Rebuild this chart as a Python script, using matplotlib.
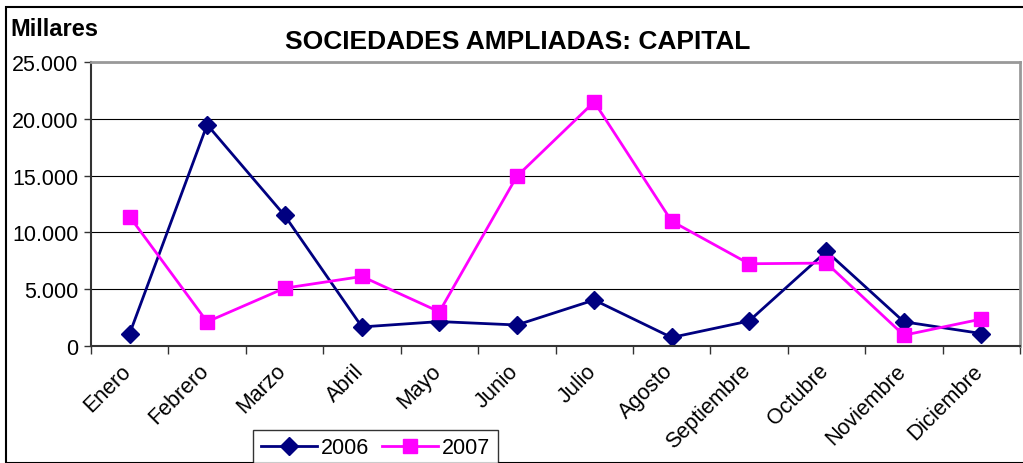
import matplotlib
matplotlib.use("Agg")
import matplotlib.pyplot as plt
import matplotlib.transforms as mtransforms
from matplotlib.ticker import FuncFormatter, FixedLocator
from matplotlib.patches import Rectangle

plt.rcParams['font.family'] = ['Liberation Sans', 'DejaVu Sans']

meses = ['Enero', 'Febrero', 'Marzo', 'Abril', 'Mayo', 'Junio', 'Julio',
         'Agosto', 'Septiembre', 'Octubre', 'Noviembre', 'Diciembre']
v2006 = [1100, 19480, 11500, 1680, 2150, 1850, 4050, 750, 2200, 8330, 2130, 1100]
v2007 = [11380, 2130, 5090, 6120, 3010, 14930, 21490, 10990, 7240, 7300, 950, 2370]

fig = plt.figure(figsize=(10.23, 4.64), dpi=100)
ax = fig.add_axes([91/1023, (464-347)/464, (1020-91)/1023, (347-63)/464])

x = list(range(len(meses)))
ax.plot(x, v2006, color='#000080', lw=2, marker='D', ms=9, label='2006')
ax.plot(x, v2007, color='#FF00FF', lw=2, marker='s', ms=10, label='2007')

ax.set_xlim(-0.5, len(meses) - 0.5)
ax.set_ylim(0, 25000)
ax.set_yticks(range(0, 25001, 5000))
ax.yaxis.set_major_formatter(FuncFormatter(lambda v, p: f"{int(v):,}".replace(',', '.')))
ax.grid(axis='y', color='black', lw=0.8)
ax.set_axisbelow(True)

ax.set_xticks(x)
ax.set_xticklabels(meses, rotation=45, ha='right', rotation_mode='anchor', fontsize=15.5)
ax.tick_params(axis='x', length=0, pad=10)
shift = mtransforms.ScaledTranslation(-9/100, 0, fig.dpi_scale_trans)
for lab in ax.get_xticklabels():
    lab.set_transform(lab.get_transform() + shift)
ax.xaxis.set_minor_locator(FixedLocator([i - 0.5 for i in range(len(meses) + 1)]))
ax.tick_params(axis='x', which='minor', length=6, width=1, color='#333333')
ax.tick_params(axis='y', labelsize=15.5, length=5, width=1, color='#333333', pad=4)

for s in ['left', 'bottom']:
    ax.spines[s].set_color('#333333')
    ax.spines[s].set_linewidth(1.5)
for s in ['top', 'right']:
    ax.spines[s].set_color('#999999')
    ax.spines[s].set_linewidth(2)

fig.text(518/1023, 1 - 42/464, 'SOCIEDADES AMPLIADAS: CAPITAL', fontsize=19,
         fontweight='bold', ha='center', va='center')
fig.text(10/1023, 1 - 30/464, 'Millares', fontsize=17, fontweight='bold',
         ha='left', va='center')

leg = fig.legend(loc='lower left', bbox_to_anchor=(253/1023, -3/464), ncol=2,
                 fontsize=15.5, frameon=True, fancybox=False, borderpad=0.35,
                 handlelength=2.6, columnspacing=0.6, handletextpad=0.2,
                 borderaxespad=0)
leg.get_frame().set_edgecolor('black')
leg.get_frame().set_linewidth(1)

fig.patches.append(Rectangle((6/1023, 0), 1.2, 1 - 8/464, transform=fig.transFigure,
                             fill=False, edgecolor='black', lw=1.5))

fig.savefig('out.png', dpi=100)
